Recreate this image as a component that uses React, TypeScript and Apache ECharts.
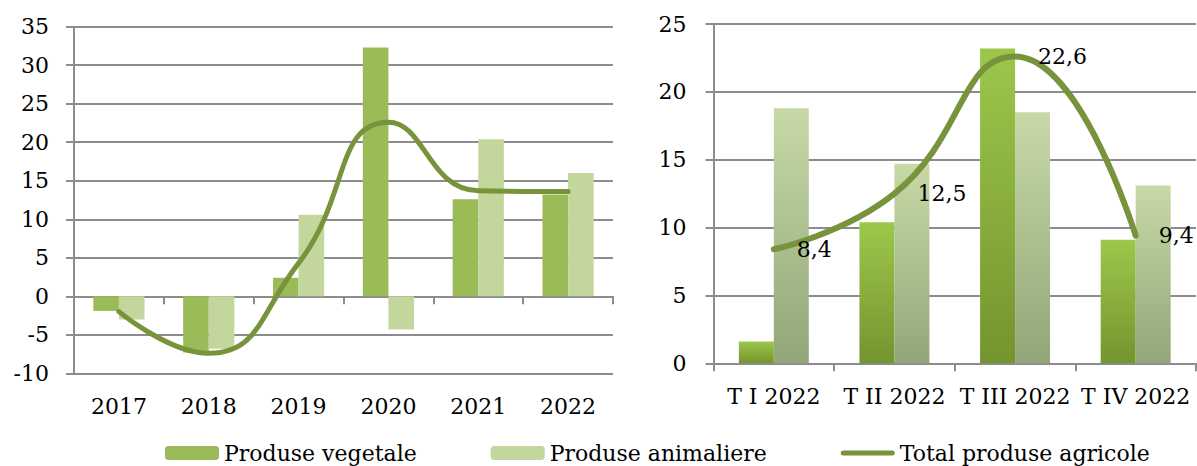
import React, { useEffect, useRef } from "react";
import * as echarts from "echarts";

const years = ["2017", "2018", "2019", "2020", "2021", "2022"];
const vegAnnual = [-1.9, -7.3, 2.4, 32.3, 12.6, 13.2];
const aniAnnual = [-3.0, -6.8, 10.6, -4.3, 20.4, 16.0];
const totalAnnual = [-2.0, -7.4, 4.3, 22.6, 13.7, 13.6];

const quarters = ["T I 2022", "T II 2022", "T III 2022", "T IV 2022"];
const vegQ = [1.6, 10.4, 23.2, 9.1];
const aniQ = [18.8, 14.7, 18.5, 13.1];
const totalQ = [8.4, 12.5, 22.6, 9.4];

const names = ["Produse vegetale", "Produse animaliere", "Total produse agricole"];

const GRAY = "#8c8c8c";
const FONT = "DejaVu Serif";
const LINE_ICON = "path://M5,0H103A5,5 0 0 1 103,10H5A5,5 0 0 1 5,0Z";

export default function App() {
  const ref = useRef<HTMLDivElement>(null);
  useEffect(() => {
    if (!ref.current) return;
    const chart = echarts.init(ref.current, undefined, { renderer: "svg" });
    const grad = (top: string, bottom: string) =>
      new echarts.graphic.LinearGradient(0, 0, 0, 1, [
        { offset: 0, color: top },
        { offset: 1, color: bottom },
      ]);
    const yAxisBase = {
      type: "value" as const,
      axisLine: { show: true, lineStyle: { color: GRAY, width: 2 } },
      axisTick: { show: true, length: 8, lineStyle: { color: GRAY, width: 2 } },
      splitLine: { show: true, lineStyle: { color: GRAY, width: 2 } },
      axisLabel: { color: "#000", fontSize: 22, fontFamily: FONT },
    };
    chart.setOption({
      animation: false,
      textStyle: { fontFamily: FONT },
      grid: [
        { left: 74, top: 26.7, width: 539, height: 346.6 },
        { left: 713.5, top: 24, width: 482.5, height: 339.3 },
      ],
      legend: {
        data: [
          names[0],
          names[1],
          { name: names[2], icon: LINE_ICON, itemStyle: { color: "#77933c" } },
        ],
        left: 160,
        top: 437,
        itemWidth: 54,
        itemHeight: 14,
        itemGap: 74,
        textStyle: { fontSize: 22, fontFamily: FONT, color: "#000" },
      },
      xAxis: [
        {
          type: "category",
          gridIndex: 0,
          data: years,
          position: "bottom",
          axisLine: { show: true, onZero: true, lineStyle: { color: GRAY, width: 2 } },
          axisTick: { show: true, length: 8, lineStyle: { color: GRAY, width: 2 } },
          axisLabel: { show: false },
        },
        {
          type: "category",
          gridIndex: 0,
          data: years,
          position: "bottom",
          axisLine: { show: false, onZero: false },
          axisTick: { show: false },
          axisLabel: { color: "#000", fontSize: 22, fontFamily: FONT, margin: 22, interval: 0 },
        },
        {
          type: "category",
          gridIndex: 1,
          data: quarters,
          position: "bottom",
          axisLine: { show: true, onZero: false, lineStyle: { color: GRAY, width: 2 } },
          axisTick: { show: true, length: 8, lineStyle: { color: GRAY, width: 2 } },
          axisLabel: { color: "#000", fontSize: 22, fontFamily: FONT, margin: 22, interval: 0 },
        },
      ],
      yAxis: [
        { ...yAxisBase, gridIndex: 0, min: -10, max: 35, interval: 5, axisLabel: { ...yAxisBase.axisLabel, margin: 25 } },
        { ...yAxisBase, gridIndex: 1, min: 0, max: 25, interval: 5, axisLabel: { ...yAxisBase.axisLabel, margin: 27 } },
      ],
      series: [
        {
          name: names[0],
          type: "bar",
          xAxisIndex: 0,
          yAxisIndex: 0,
          data: vegAnnual,
          barGap: "0%",
          barCategoryGap: "43%",
          itemStyle: { color: "#9bbb59" },
        },
        {
          name: names[1],
          type: "bar",
          xAxisIndex: 0,
          yAxisIndex: 0,
          data: aniAnnual,
          barGap: "0%",
          barCategoryGap: "43%",
          itemStyle: { color: "#c3d69b" },
        },
        {
          name: names[2],
          type: "line",
          xAxisIndex: 0,
          yAxisIndex: 0,
          data: totalAnnual,
          smooth: 0.5,
          symbol: "none",
          z: 5,
          itemStyle: { color: "#77933c" },
          lineStyle: { color: "#77933c", width: 5, cap: "round" },
        },
        {
          name: names[0],
          type: "bar",
          xAxisIndex: 2,
          yAxisIndex: 1,
          data: vegQ,
          barGap: "0%",
          barCategoryGap: "42%",
          itemStyle: { color: grad("#9dc74b", "#74942f") },
        },
        {
          name: names[1],
          type: "bar",
          xAxisIndex: 2,
          yAxisIndex: 1,
          data: aniQ,
          barGap: "0%",
          barCategoryGap: "42%",
          itemStyle: { color: grad("#c6d9a6", "#93a679") },
        },
        {
          name: names[2],
          type: "line",
          xAxisIndex: 2,
          yAxisIndex: 1,
          data: totalQ,
          smooth: 0.5,
          symbol: "circle",
          symbolSize: 2,
          showSymbol: true,
          z: 5,
          itemStyle: { color: "#77933c" },
          lineStyle: { color: "#77933c", width: 6, cap: "round" },
          label: {
            show: true,
            position: "right",
            distance: 22,
            color: "#000",
            fontSize: 22,
            fontFamily: FONT,
            formatter: (p: any) => String(p.value).replace(".", ","),
          },
        },
      ],
    });
    return () => chart.dispose();
  }, []);
  return (
    <div
      ref={ref}
      style={{ position: "fixed", left: 0, top: 0, width: 1197, height: 466, background: "#fff" }}
    />
  );
}
